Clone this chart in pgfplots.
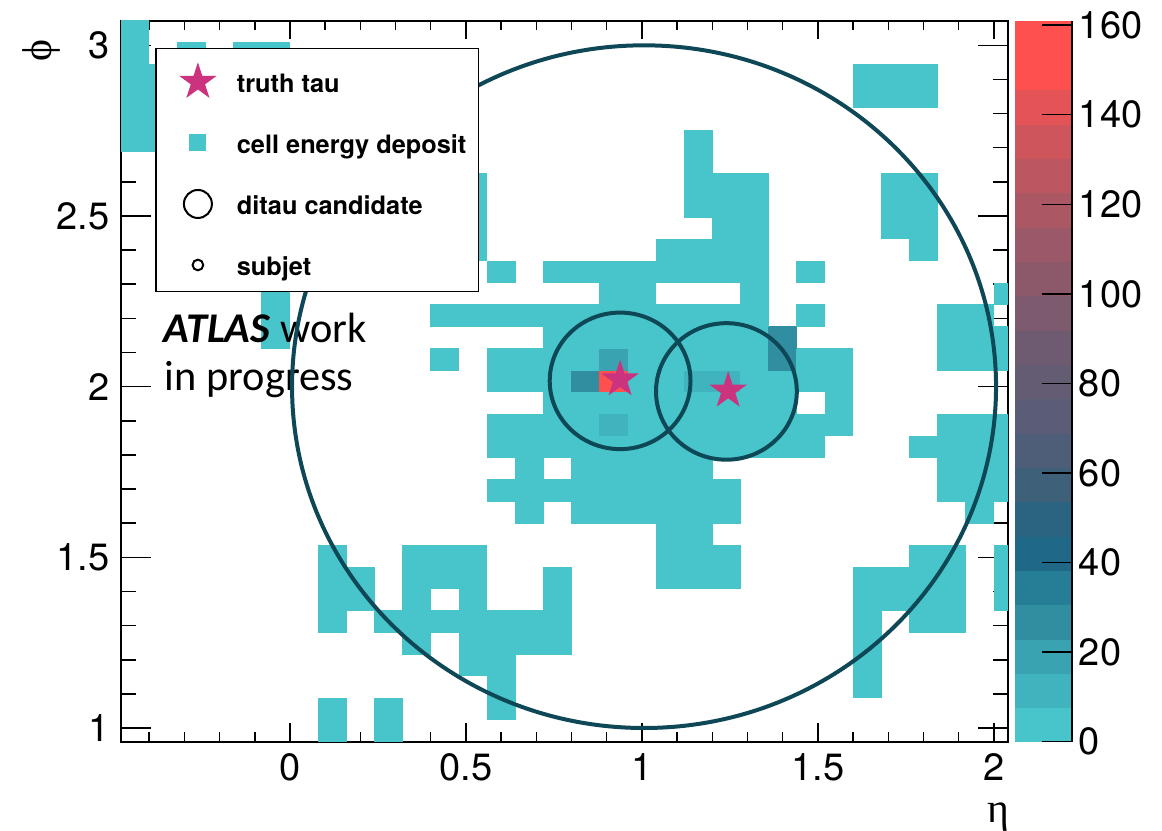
\documentclass[border=0pt]{standalone}
\usepackage{fontspec}
\setmainfont{TeX Gyre Heros}
\newfontfamily\carlito{Carlito}
\newfontfamily\greekf{Liberation Serif}
\usepackage{pgfplots}
\usepackage{pgfplotstable}
\pgfplotsset{compat=1.18}

\definecolor{taumag}{RGB}{204,51,127}
\definecolor{ringc}{RGB}{14,72,86}
\definecolor{cellc}{RGB}{72,197,202}

\def\ringr{1}

% one calorimeter cell: 0.08 x 0.064 in (eta, phi)
\pgfdeclareplotmark{cell}{%
  \pgfpathrectangle{\pgfpoint{-4.32pt}{-3.37pt}}{\pgfpoint{8.64pt}{6.74pt}}%
  \pgfusepathqfill}
% filled five-pointed star
\pgfdeclareplotmark{fstar}{%
  \pgfpathmoveto{\pgfpointpolar{90}{\pgfplotmarksize}}%
  \pgfpathlineto{\pgfpointpolar{126}{0.382\pgfplotmarksize}}%
  \pgfpathlineto{\pgfpointpolar{162}{\pgfplotmarksize}}%
  \pgfpathlineto{\pgfpointpolar{198}{0.382\pgfplotmarksize}}%
  \pgfpathlineto{\pgfpointpolar{234}{\pgfplotmarksize}}%
  \pgfpathlineto{\pgfpointpolar{270}{0.382\pgfplotmarksize}}%
  \pgfpathlineto{\pgfpointpolar{306}{\pgfplotmarksize}}%
  \pgfpathlineto{\pgfpointpolar{342}{0.382\pgfplotmarksize}}%
  \pgfpathlineto{\pgfpointpolar{18}{\pgfplotmarksize}}%
  \pgfpathlineto{\pgfpointpolar{54}{0.382\pgfplotmarksize}}%
  \pgfpathclose\pgfusepathqfill}
% cone of radius \ringr in (eta, phi); one unit is 105.6pt in eta, 102.4pt in phi
\pgfdeclareplotmark{ring}{%
  \pgfpathellipse{\pgfpointorigin}%
    {\pgfpointscale{\ringr}{\pgfpoint{105.6pt}{0pt}}}%
    {\pgfpointscale{\ringr}{\pgfpoint{0pt}{102.4pt}}}%
  \pgfusepathqstroke}

\pgfplotsset{
  colormap={rootpal}{
    rgb255=(72,197,202) rgb255=(64,180,190) rgb255=(58,163,177) rgb255=(48,142,160)
    rgb255=(38,126,150) rgb255=(31,104,135) rgb255=(42,100,128) rgb255=(62,96,121)
    rgb255=(78,94,120) rgb255=(90,93,117) rgb255=(100,92,115) rgb255=(110,91,113)
    rgb255=(125,90,110) rgb255=(140,89,107) rgb255=(155,88,104) rgb255=(172,87,100)
    rgb255=(188,86,96) rgb255=(207,85,92) rgb255=(228,83,86) rgb255=(255,80,80)
    rgb255=(255,80,80)},
  tall image/.style={legend image code/.code={%
      \path[draw=none] (-9pt,-3.6pt) rectangle (6pt,8.2pt);
      \draw[##1,overlay] plot coordinates {(0pt,1.3pt)};}},
}

% cell energy deposits (eta, phi, energy)
\pgfplotstableread[row sep=\\]{
eta phi e\\
0.12 0.992 3\\ 0.28 0.992 3\\
0.12 1.056 3\\ 0.28 1.056 3\\ 0.60 1.056 3\\
0.60 1.120 3\\ 1.64 1.120 3\\
0.52 1.184 3\\ 0.60 1.184 3\\ 1.64 1.184 3\\
0.36 1.248 3\\ 0.52 1.248 3\\ 0.60 1.248 3\\ 0.68 1.248 3\\ 0.76 1.248 3\\ 1.64 1.248 3\\
0.12 1.312 3\\ 0.28 1.312 3\\ 0.36 1.312 3\\ 0.44 1.312 3\\ 0.52 1.312 3\\ 0.60 1.312 3\\ 0.68 1.312 3\\ 0.76 1.312 3\\ 1.64 1.312 3\\ 1.80 1.312 3\\ 1.88 1.312 3\\
0.12 1.376 3\\ 0.20 1.376 3\\ 0.36 1.376 3\\ 0.52 1.376 3\\ 0.76 1.376 3\\ 1.64 1.376 3\\ 1.72 1.376 3\\ 1.80 1.376 3\\ 1.88 1.376 3\\ 2.04 1.376 3\\
0.12 1.440 3\\ 0.20 1.440 3\\ 0.36 1.440 3\\ 0.44 1.440 3\\ 0.52 1.440 3\\ 0.76 1.440 3\\ 1.08 1.440 3\\ 1.16 1.440 3\\ 1.24 1.440 3\\ 1.64 1.440 3\\ 1.72 1.440 3\\ 1.80 1.440 3\\ 1.88 1.440 3\\ 2.04 1.440 3\\
0.12 1.504 3\\ 0.36 1.504 3\\ 0.44 1.504 3\\ 0.52 1.504 3\\ 1.08 1.504 3\\ 1.16 1.504 3\\ 1.24 1.504 3\\ 1.80 1.504 3\\ 1.88 1.504 3\\ 2.04 1.504 3\\
1.08 1.568 3\\ 1.16 1.568 3\\
0.68 1.632 3\\ 0.84 1.632 3\\ 0.92 1.632 3\\ 1.00 1.632 3\\ 1.08 1.632 3\\ 1.16 1.632 3\\ 1.24 1.632 3\\ 1.96 1.632 3\\
0.60 1.696 3\\ 0.68 1.696 3\\ 0.76 1.696 3\\ 0.84 1.696 3\\ 0.92 1.696 3\\ 1.00 1.696 3\\ 1.08 1.696 3\\ 1.16 1.696 3\\ 1.24 1.696 3\\ 1.88 1.696 3\\ 1.96 1.696 3\\ 2.04 1.696 3\\
0.68 1.760 3\\ 0.84 1.760 3\\ 0.92 1.760 3\\ 1.00 1.760 3\\ 1.08 1.760 3\\ 1.16 1.760 3\\ 1.88 1.760 3\\ 1.96 1.760 3\\ 2.04 1.760 3\\
0.60 1.824 3\\ 0.68 1.824 3\\ 0.76 1.824 3\\ 0.84 1.824 3\\ 0.92 1.824 3\\ 1.00 1.824 3\\ 1.08 1.824 3\\ 1.16 1.824 3\\ 1.24 1.824 3\\ 1.32 1.824 3\\ 1.40 1.824 3\\ 1.48 1.824 3\\ 1.80 1.824 3\\ 1.88 1.824 3\\ 1.96 1.824 3\\ 2.04 1.824 3\\
0.60 1.888 3\\ 0.68 1.888 3\\ 0.76 1.888 3\\ 0.84 1.888 3\\ 0.92 1.888 12\\ 1.00 1.888 3\\ 1.08 1.888 3\\ 1.16 1.888 3\\ 1.24 1.888 3\\ 1.32 1.888 3\\ 1.40 1.888 3\\ 1.48 1.888 3\\ 1.56 1.888 3\\ 1.88 1.888 3\\ 1.96 1.888 3\\ 2.04 1.888 3\\
0.76 1.952 3\\ 0.84 1.952 3\\ 0.92 1.952 3\\ 1.00 1.952 3\\ 1.08 1.952 3\\ 1.16 1.952 3\\ 1.24 1.952 3\\ 1.32 1.952 3\\ 1.40 1.952 3\\ 1.56 1.952 3\\
0.60 2.016 3\\ 0.68 2.016 3\\ 0.76 2.016 3\\ 0.84 2.016 28\\ 0.92 2.016 158\\ 1.00 2.016 3\\ 1.08 2.016 3\\ 1.16 2.016 10\\ 1.24 2.016 10\\ 1.32 2.016 3\\ 1.40 2.016 3\\ 1.48 2.016 3\\ 1.56 2.016 3\\
0.44 2.080 3\\ 0.60 2.080 3\\ 0.68 2.080 3\\ 0.76 2.080 3\\ 0.84 2.080 3\\ 0.92 2.080 22\\ 1.00 2.080 3\\ 1.08 2.080 3\\ 1.16 2.080 3\\ 1.24 2.080 3\\ 1.32 2.080 3\\ 1.40 2.080 28\\ 1.48 2.080 3\\ 1.56 2.080 3\\ 1.88 2.080 3\\ 1.96 2.080 3\\ 2.04 2.080 3\\
-0.04 2.144 3\\ 0.76 2.144 3\\ 0.84 2.144 3\\ 0.92 2.144 3\\ 1.00 2.144 3\\ 1.08 2.144 3\\ 1.16 2.144 3\\ 1.24 2.144 3\\ 1.32 2.144 3\\ 1.40 2.144 28\\ 1.88 2.144 3\\ 1.96 2.144 3\\ 2.04 2.144 3\\
-0.04 2.208 3\\ 0.44 2.208 3\\ 0.52 2.208 3\\ 0.60 2.208 3\\ 0.68 2.208 3\\ 0.76 2.208 3\\ 0.84 2.208 3\\ 0.92 2.208 3\\ 1.00 2.208 3\\ 1.08 2.208 3\\ 1.16 2.208 3\\ 1.24 2.208 3\\ 1.32 2.208 3\\ 1.48 2.208 3\\ 1.88 2.208 3\\ 1.96 2.208 3\\
-0.04 2.272 3\\ 0.92 2.272 3\\ 1.00 2.272 3\\ 1.32 2.272 3\\ 2.04 2.272 3\\
0.60 2.336 3\\ 0.76 2.336 3\\ 0.84 2.336 3\\ 0.92 2.336 3\\ 1.00 2.336 3\\ 1.08 2.336 3\\ 1.16 2.336 3\\ 1.24 2.336 3\\ 1.32 2.336 3\\ 1.48 2.336 3\\
0.52 2.400 3\\ 1.08 2.400 3\\ 1.16 2.400 3\\ 1.24 2.400 3\\ 1.32 2.400 3\\ 1.80 2.400 3\\
0.52 2.464 3\\ 1.24 2.464 3\\ 1.32 2.464 3\\ 1.72 2.464 3\\ 1.80 2.464 3\\
0.52 2.528 3\\ 1.16 2.528 3\\ 1.24 2.528 3\\ 1.32 2.528 3\\ 1.72 2.528 3\\ 1.80 2.528 3\\
0.52 2.592 3\\ 1.16 2.592 3\\ 1.24 2.592 3\\ 1.32 2.592 3\\ 1.72 2.592 3\\ 1.80 2.592 3\\
1.16 2.656 3\\
-0.44 2.720 3\\ -0.36 2.720 3\\ 1.16 2.720 3\\
-0.44 2.784 3\\ -0.36 2.784 3\\
-0.44 2.848 3\\ -0.36 2.848 3\\ 1.64 2.848 3\\ 1.72 2.848 3\\ 1.80 2.848 3\\
-0.44 2.912 3\\ -0.36 2.912 3\\ 1.64 2.912 3\\ 1.72 2.912 3\\ 1.80 2.912 3\\
-0.44 2.976 3\\ -0.28 2.976 3\\ -0.12 2.976 3\\ -0.04 2.976 3\\
-0.44 3.040 3\\
}\cells

% truth taus
\pgfplotstableread[row sep=\\]{
eta phi\\
0.938 2.021\\
1.245 1.988\\
}\taus

% ditau candidate and its two subjets: centre and radius
\pgfplotstableread[row sep=\\]{
eta phi r\\
1.006 2.000 1.0\\
0.938 2.017 0.2\\
1.240 1.986 0.2\\
}\cones

\begin{document}
\begin{tikzpicture}
\path[use as bounding box] (-36.3pt,-26.79pt) rectangle (312.3pt,222.51pt);
\begin{axis}[
  at={(0pt,0pt)}, anchor=south west,
  scale only axis, width=266.1pt, height=216.3pt,
  xmin=-0.48, xmax=2.04, ymin=0.96, ymax=3.072,
  enlargelimits=false, clip marker paths=true,
  colormap name=rootpal, colormap access=piecewise constant,
  point meta min=0, point meta max=161,
  xtick={0,0.5,1,1.5,2}, ytick={1,1.5,2,2.5,3},
  minor xtick={-0.4,-0.3,...,2.01}, minor ytick={1.0,1.1,...,3.01},
  tick align=inside, major tick length=9pt, minor tick length=4.5pt,
  xtick style={/pgfplots/major tick length=5.6pt,/pgfplots/minor tick length=2.8pt},
  tick style={black, line width=0.45pt},
  axis line style={line width=0.6pt},
  tick label style={font=\fontsize{11.4}{13}\selectfont},
  /pgf/number format/assume math mode=true,
  xlabel={\greekf η}, ylabel={\greekf ϕ},
  every axis x label/.style={at={(axis description cs:1,0)}, xshift=-3pt, yshift=-22.6pt,
    anchor=center, font=\fontsize{12.5}{14}\selectfont},
  every axis y label/.style={at={(axis description cs:0,1)}, xshift=-23.8pt, yshift=-9pt,
    rotate=90, anchor=center, font=\fontsize{12.5}{14}\selectfont},
  colorbar,
  colorbar style={
    at={(parent axis.north east)}, anchor=north west, xshift=-6.6pt,
    scale only axis, width=17.3pt, height=216.3pt,
    axis y line*=right, axis x line=none,
    ytick={0,20,...,160}, minor ytick={},
    ytick pos=right, yticklabel pos=right,
    tick align=inside, major tick length=9pt,
    /pgf/number format/assume math mode=true,
    yticklabel style={font=\fontsize{11.4}{13}\selectfont, xshift=-1.5pt},
  },
  legend style={at={(axis description cs:0.0384,0.9624)}, anchor=north west,
    draw=black, line width=0.5pt, fill=white,
    inner xsep=3.6pt, inner ysep=3.1pt, row sep=11.1pt, column sep=5.7pt,
    nodes={inner sep=0pt, text height=5.6pt, text depth=1.6pt,
      font=\bfseries\fontsize{7.6}{9}\selectfont}},
  legend cell align=left,
  legend image code/.code={\path[draw=none] (-9pt,-3.6pt) rectangle (6pt,3.6pt);
    \draw[#1,overlay] plot coordinates {(0pt,1.3pt)};},
]
\addplot[scatter, only marks, mark=cell, scatter src=explicit, forget plot]
  table[x=eta, y=phi, meta=e] {\cells};

\node[anchor=base west, inner sep=0pt, font=\carlito\fontsize{12.7}{14}\selectfont]
  at (axis cs:-0.360,2.130) {\textbf{\textit{ATLAS}} work};
\node[anchor=base west, inner sep=0pt, font=\carlito\fontsize{12.7}{14}\selectfont]
  at (axis cs:-0.357,1.990) {in progress};

\addplot[only marks, mark=ring, color=ringc, line width=1.2pt, forget plot,
  visualization depends on={\thisrow{r} \as \ringr}]
  table[x=eta, y=phi] {\cones};
\addplot[only marks, mark=fstar, mark size=5.9pt, color=taumag, forget plot]
  table[x=eta, y=phi] {\taus};

\addlegendimage{tall image, only marks, mark=fstar, mark size=5.9pt, color=taumag}
\addlegendentry{truth tau}
\addlegendimage{only marks, mark=square*, mark size=2.3pt, color=cellc}
\addlegendentry{cell energy deposit}
\addlegendimage{only marks, mark=o, mark size=4.2pt, black, line width=0.6pt}
\addlegendentry{ditau candidate}
\addlegendimage{only marks, mark=o, mark size=1.6pt, black, line width=0.6pt}
\addlegendentry{subjet}
\end{axis}
\end{tikzpicture}
\end{document}
